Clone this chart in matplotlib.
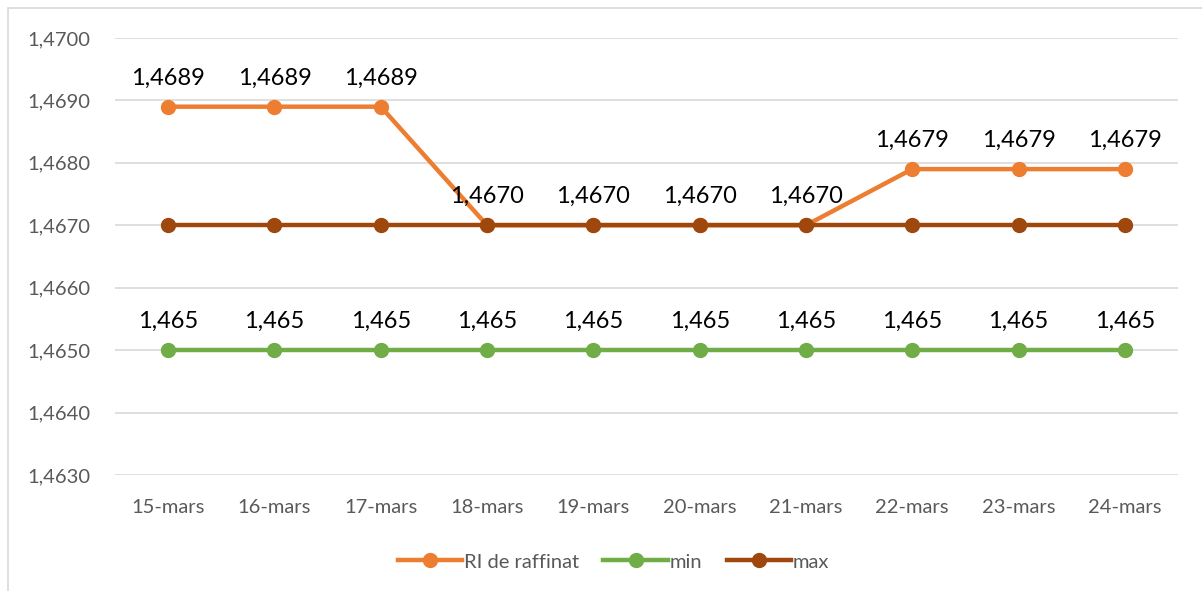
import matplotlib
matplotlib.use('Agg')
from matplotlib import pyplot as plt
from matplotlib.patches import Rectangle
from matplotlib.ticker import FuncFormatter

dates = ['15-mars', '16-mars', '17-mars', '18-mars', '19-mars',
         '20-mars', '21-mars', '22-mars', '23-mars', '24-mars']
ri = [1.4689, 1.4689, 1.4689, 1.4670, 1.4670, 1.4670, 1.4670, 1.4679, 1.4679, 1.4679]
mins = [1.465] * 10
maxs = [1.467] * 10

plt.rcParams['font.family'] = ['Lato', 'DejaVu Sans']

fig = plt.figure(figsize=(12.02, 5.91), dpi=100)
ax = fig.add_axes([0.0957, 0.1963, 0.8843, 0.7394])

x = list(range(len(dates)))
orange = '#ED7D31'
green = '#70AD47'
brown = '#9E480E'

ax.plot(x, ri, color=orange, lw=3.2, marker='o', ms=10, label='RI de raffinat', zorder=3)
ax.plot(x, mins, color=green, lw=3.2, marker='o', ms=10, label='min', zorder=3)
ax.plot(x, maxs, color=brown, lw=3.2, marker='o', ms=10, label='max', zorder=4)

for xi, v in zip(x, ri):
    ax.annotate(('%.4f' % v).replace('.', ','), (xi, v), xytext=(0, 13),
                textcoords='offset points', ha='center', va='bottom', fontsize=17, color='black')
for xi, v in zip(x, mins):
    ax.annotate(('%.3f' % v).replace('.', ','), (xi, v), xytext=(0, 13),
                textcoords='offset points', ha='center', va='bottom', fontsize=17, color='black')

ax.set_xlim(-0.5, len(dates) - 0.5)
ax.set_ylim(1.4630, 1.4700)
ax.set_yticks([1.4630 + 0.001 * i for i in range(8)])
ax.yaxis.set_major_formatter(FuncFormatter(lambda v, p: ('%.4f' % v).replace('.', ',')))
ax.set_xticks(x)
ax.set_xticklabels(dates)
ax.grid(axis='y', color='#D9D9D9', lw=1.2)
ax.set_axisbelow(True)
for s in ax.spines.values():
    s.set_visible(False)
ax.tick_params(length=0, labelsize=14.5, labelcolor='#595959', pad=17)
ax.tick_params(axis='y', pad=18)

leg = ax.legend(loc='upper center', bbox_to_anchor=(0.469, -0.138), ncol=3, frameon=False,
                fontsize=14.5, handlelength=3.2, columnspacing=1.2, handletextpad=0.1)
for t in leg.get_texts():
    t.set_color('#595959')

fig.patches.append(Rectangle((8 / 1202, -0.1), 1.2, 1 - 8 / 591 + 0.1, transform=fig.transFigure,
                             fill=False, edgecolor='#D9D9D9', lw=1.2))

fig.savefig('out.png', dpi=100)
